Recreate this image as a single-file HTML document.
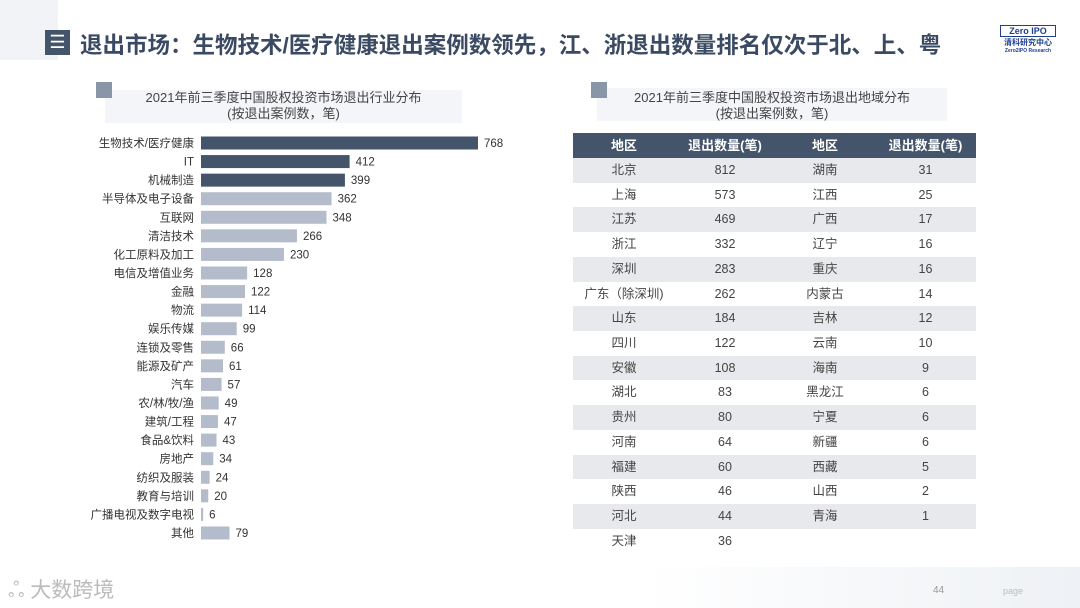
<!DOCTYPE html>
<html><head><meta charset="utf-8"><style>
body{margin:0;width:1080px;height:608px;position:relative;overflow:hidden;background:#fff;font-family:"Liberation Sans","Noto Sans CJK SC",sans-serif;}
.abs{position:absolute;}
</style></head><body>
<div class="abs" style="left:0;top:0;width:58px;height:60px;background:#f1f3f6"></div>
<div class="abs" style="left:45px;top:30px;width:25px;height:25px;background:#44546a;color:#fff;font-size:18px;line-height:24px;text-align:center">☰</div>
<div class="abs" style="left:80px;top:28px;font-size:22.5px;font-weight:bold;color:#3a4a62;white-space:nowrap">退出市场：生物技术/医疗健康退出案例数领先，江、浙退出数量排名仅次于北、上、粤</div>
<div class="abs" style="left:1000px;top:25px;width:56px;font-size:8px;color:#1f3f8f;text-align:center;font-weight:bold"><div style="border:1px solid #1f3f8f;font-size:9px">Zero IPO</div>清科研究中心<div style="font-size:5px">Zero2IPO Research</div></div>

<div class="abs" style="left:105px;top:90px;width:357px;height:33px;background:#f3f5f8"></div>
<div class="abs" style="left:96px;top:82px;width:16px;height:16px;background:#8896a8"></div>
<div class="abs" style="left:105px;top:90px;width:357px;text-align:center;font-size:13px;line-height:16px;color:#444">2021年前三季度中国股权投资市场退出行业分布<br>(按退出案例数，笔)</div>

<svg class="abs" style="left:0;top:0" width="1080" height="608" id="chart"></svg>

<div class="abs" style="left:597px;top:88px;width:350px;height:33px;background:#f3f5f8"></div>
<div class="abs" style="left:591px;top:82px;width:16px;height:16px;background:#8896a8"></div>
<div class="abs" style="left:597px;top:90px;width:350px;text-align:center;font-size:13px;line-height:16px;color:#444">2021年前三季度中国股权投资市场退出地域分布<br>(按退出案例数，笔)</div>
<div class="abs" id="tbl" style="left:573px;top:133px;width:403px"></div>

<div class="abs" style="left:0;top:567px;width:1080px;height:41px;background:linear-gradient(90deg,#fff 0%,#fff 60%,#eef1f5 100%)"></div>
<div class="abs" style="left:8px;top:574px;font-size:21px;color:#bbb">ஃ 大数跨境</div>
<div class="abs" style="left:933px;top:585px;font-size:10px;color:#999">44</div>
<div class="abs" style="left:1003px;top:586px;font-size:9px;color:#bbb">page</div>

<script>
const categories=["生物技术/医疗健康","IT","机械制造","半导体及电子设备","互联网","清洁技术","化工原料及加工","电信及增值业务","金融","物流","娱乐传媒","连锁及零售","能源及矿产","汽车","农/林/牧/渔","建筑/工程","食品&饮料","房地产","纺织及服装","教育与培训","广播电视及数字电视","其他"];
const values=[768,412,399,362,348,266,230,128,122,114,99,66,61,57,49,47,43,34,24,20,6,79];
const regionsA=["北京","上海","江苏","浙江","深圳","广东（除深圳)","山东","四川","安徽","湖北","贵州","河南","福建","陕西","河北","天津"];
const countsA=[812,573,469,332,283,262,184,122,108,83,80,64,60,46,44,36];
const regionsB=["湖南","江西","广西","辽宁","重庆","内蒙古","吉林","云南","海南","黑龙江","宁夏","新疆","西藏","山西","青海"];
const countsB=[31,25,17,16,16,14,12,10,9,6,6,6,5,2,1];

const svg=document.getElementById('chart');const NS='http://www.w3.org/2000/svg';
const x0=201,scale=277/768,y0=143,step=18.57;
const xs=v=>v*scale, ys=i=>y0+i*step;
categories.forEach((c,i)=>{
 const r=document.createElementNS(NS,'rect');
 r.setAttribute('x',x0);r.setAttribute('y',ys(i)-6.5);r.setAttribute('width',xs(values[i]));r.setAttribute('height',13);
 r.setAttribute('fill',i<3?'#44546a':'#b4bccb');
 
 
 svg.appendChild(r);
 const l=document.createElementNS(NS,'text');
 l.setAttribute('x',194);l.setAttribute('y',ys(i)+4);l.setAttribute('text-anchor','end');l.setAttribute('font-size','11.5');l.setAttribute('fill','#333');l.textContent=c;
 
 
 svg.appendChild(l);
 const v=document.createElementNS(NS,'text');
 v.setAttribute('x',x0+xs(values[i])+6);v.setAttribute('y',ys(i)+4);v.setAttribute('font-size','11.5');v.setAttribute('fill','#333');v.textContent=values[i];
 
 
 svg.appendChild(v);
});

const tbl=document.getElementById('tbl');
let h='<div style="display:flex;height:25px;background:#44546a;color:#fff;font-weight:bold;font-size:13px;line-height:25px;text-align:center"><div style="width:102px">地区</div><div style="width:100px">退出数量(笔)</div><div style="width:100px">地区</div><div style="width:101px">退出数量(笔)</div></div>';
regionsA.forEach((r,i)=>{
 const bg=i%2==0?'#e8e9ec':'#fff';
 h+='<div style="display:flex;height:24.73px;background:'+bg+';font-size:12.5px;line-height:24.73px;text-align:center;color:#444"><div style="width:102px">'+r+'</div><div style="width:100px">'+countsA[i]+'</div><div style="width:100px">'+(regionsB[i]||'')+'</div><div style="width:101px">'+(countsB[i]!==undefined?countsB[i]:'')+'</div></div>';
});
tbl.innerHTML=h;
</script>
</body></html>
